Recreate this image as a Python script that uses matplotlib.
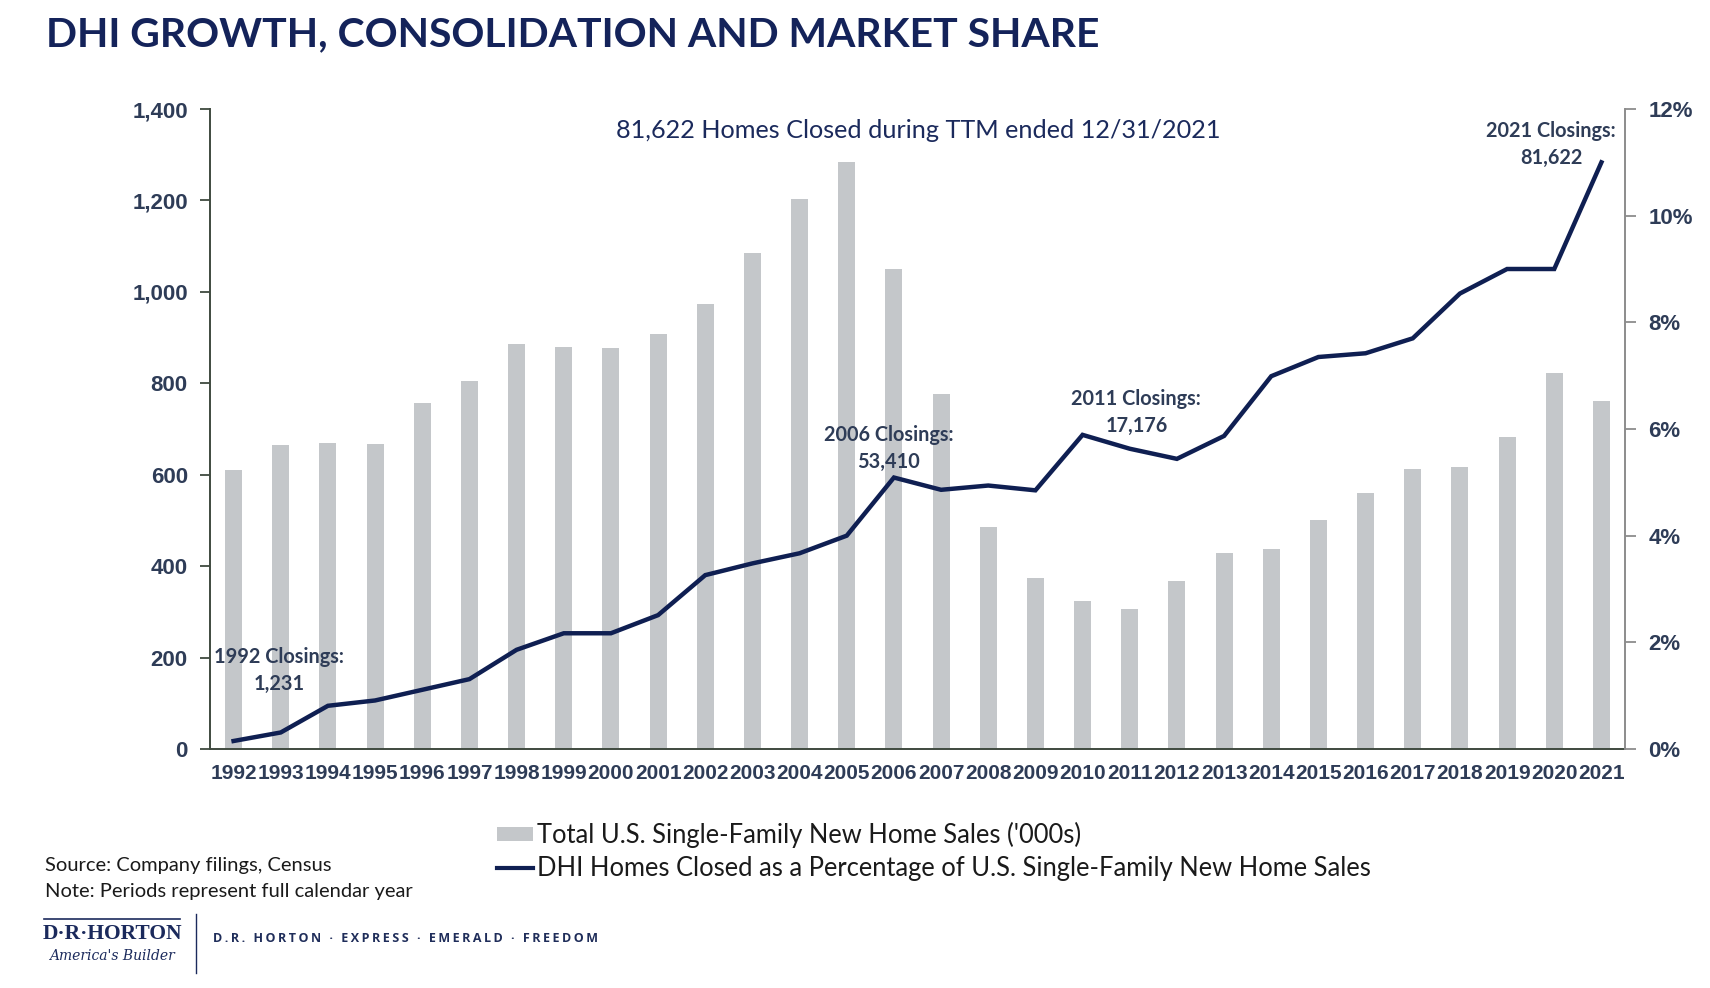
import matplotlib
matplotlib.use("Agg")
import matplotlib.pyplot as plt
from matplotlib import font_manager
from matplotlib.patches import Patch
from matplotlib.lines import Line2D
from matplotlib.ticker import FuncFormatter, MultipleLocator

# data
years = list(range(1992, 2022))
new_home_sales = [610, 666, 670, 667, 757, 804, 886, 880, 877, 908,
                  973, 1086, 1203, 1283, 1051, 776, 485, 375, 323, 306,
                  368, 429, 437, 501, 561, 613, 617, 683, 822, 762]
dhi_share_pct = [0.15, 0.31, 0.81, 0.91, 1.11, 1.31, 1.86, 2.17, 2.17, 2.51,
                 3.26, 3.48, 3.67, 4.00, 5.09, 4.86, 4.94, 4.85, 5.89, 5.63,
                 5.44, 5.87, 6.99, 7.35, 7.42, 7.70, 8.54, 9.00, 9.00, 11.00]
callout_years = [1992, 2006, 2011, 2021]
callout_closings = ["1,231", "53,410", "17,176", "81,622"]

NAVY = "#0f1f52"
SLATE = "#2e3c57"
BAR = "#c4c7ca"

installed = {f.name for f in font_manager.fontManager.ttflist}
body = "Lato" if "Lato" in installed else "Open Sans"

W, H = 1710, 988
fig = plt.figure(figsize=(W / 100, H / 100), dpi=100)
ax = fig.add_axes([210 / W, 1 - 749 / H, (1625 - 210) / W, 640 / H])
ax2 = ax.twinx()

x = list(range(len(years)))
ax.bar(x, new_home_sales, width=0.36, color=BAR, zorder=2)
ax2.plot(x, [v / 100 for v in dhi_share_pct], color=NAVY, lw=3.2,
         solid_joinstyle="miter", zorder=3)

ax.set_xlim(-0.5, len(years) - 0.5)
ax.set_ylim(0, 1400)
ax.yaxis.set_major_locator(MultipleLocator(200))
ax.yaxis.set_major_formatter(FuncFormatter(lambda v, _: f"{v:,.0f}"))
ax2.set_ylim(0, 0.12)
ax2.yaxis.set_major_locator(MultipleLocator(0.02))
ax2.yaxis.set_major_formatter(FuncFormatter(lambda v, _: f"{v * 100:.0f}%"))

ax.set_xticks(x)
ax.set_xticklabels([str(y) for y in years], family="Liberation Sans", fontweight="bold",
                   fontsize=15, color=SLATE)
ax.tick_params(axis="x", length=0, pad=11)
ax.tick_params(axis="y", direction="out", length=7, width=1.3, color="#3f4a3f",
               pad=9, labelsize=16, labelcolor=SLATE)
ax2.tick_params(axis="y", direction="out", length=8, width=1.3, color="#8c8c8c",
                pad=9, labelsize=16, labelcolor=SLATE)
for lab in ax.get_yticklabels() + ax2.get_yticklabels():
    lab.set_family("Liberation Sans")
    lab.set_fontweight("bold")

for s in ("top", "right"):
    ax.spines[s].set_visible(False)
for s in ("top", "left", "bottom"):
    ax2.spines[s].set_visible(False)
ax.spines["left"].set_color("#3f4a3f")
ax.spines["left"].set_linewidth(1.4)
ax.spines["bottom"].set_color("#3f4a3f")
ax.spines["bottom"].set_linewidth(1.4)
ax2.spines["right"].set_color("#8c8c8c")
ax2.spines["right"].set_linewidth(1.4)

# callouts (x in bar index, y on the left scale)
callout_pos = {1992: (0.96, 202), 2006: (13.88, 687), 2011: (19.14, 765), 2021: (27.93, 1352)}
for yr, closings in zip(callout_years, callout_closings):
    cx, cy = callout_pos[yr]
    ax2.text(cx, cy, f"{yr} Closings:", transform=ax.transData, ha="center", va="center",
             family=body, fontweight="bold", fontsize=14.3, color=SLATE, zorder=5)
    ax2.text(cx, cy - 59, closings, transform=ax.transData, ha="center", va="center",
             family=body, fontweight="bold", fontsize=14.3, color=SLATE, zorder=5)

ax2.text(14.51, 1352, "81,622 Homes Closed during TTM ended 12/31/2021",
         transform=ax.transData, ha="center", va="center", family=body,
         fontsize=18.2, color="#1b2a5c")

fig.text(46 / W, 1 - 35 / H, "DHI GROWTH, CONSOLIDATION AND MARKET SHARE",
         ha="left", va="center", family=body, fontweight="bold", fontsize=29.4, color="#14235a")

handles = [Patch(facecolor=BAR, edgecolor="none"),
           Line2D([], [], color=NAVY, lw=3)]
labels = ["Total U.S. Single-Family New Home Sales ('000s)",
          "DHI Homes Closed as a Percentage of U.S. Single-Family New Home Sales"]
fig.legend(handles, labels, loc="upper left", bbox_to_anchor=(474 / W, 1 - 799 / H),
           frameon=False, prop={"family": body, "size": 18.4}, handlelength=1.4,
           handleheight=0.5, handletextpad=0.15, labelspacing=0.32, labelcolor="#1a1a1a")

fig.text(45 / W, 1 - 865 / H, "Source: Company filings, Census", ha="left", va="center",
         family=body, fontsize=14.5, color="#1a1a1a")
fig.text(45 / W, 1 - 891 / H, "Note: Periods represent full calendar year", ha="left",
         va="center", family=body, fontsize=14.5, color="#1a1a1a")

# logo block
fig.add_artist(Line2D([44 / W, 180 / W], [1 - 919 / H] * 2, color="#1b2a5c", lw=1.2))
fig.text(112 / W, 1 - 934 / H, "D·R·HORTON", ha="center", va="center",
         family="Liberation Serif", fontweight="bold", fontsize=15.5, color="#1b2a5c")
fig.text(112 / W, 1 - 956 / H, "America's Builder", ha="center", va="center",
         family="DejaVu Serif", style="italic", fontsize=10, color="#1b2a5c")
fig.add_artist(Line2D([196 / W] * 2, [1 - 914 / H, 1 - 973 / H], color="#1b2a5c", lw=1))
tag = "D.R. HORTON · EXPRESS · EMERALD · FREEDOM"
fig.text(213 / W, 1 - 939 / H, "\u2009".join(tag), ha="left", va="center",
         family=["Open Sans", "DejaVu Sans"], fontweight="bold", fontsize=9, color="#1f2d5a")

fig.savefig("out.png", dpi=100)
